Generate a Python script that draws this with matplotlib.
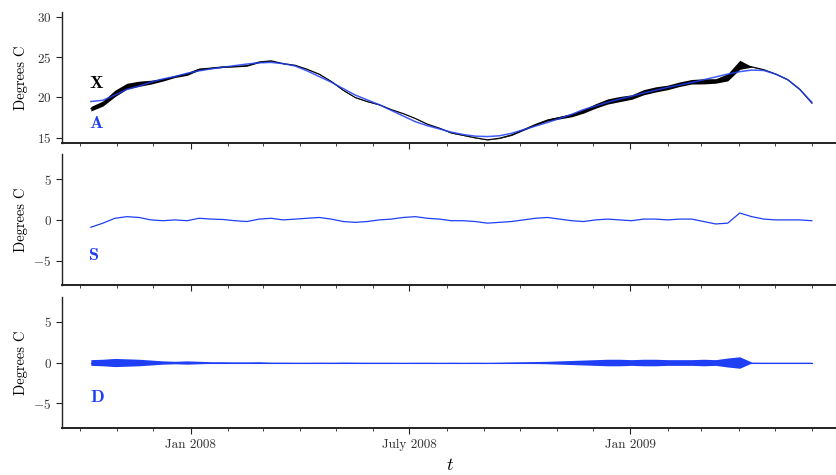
import numpy as np
import pandas as pd
import matplotlib
matplotlib.use("Agg")
import matplotlib.pyplot as plt
import matplotlib.dates as mdates

plt.rcParams['font.family'] = 'serif'
plt.rcParams['font.serif'] = ['cmr10']
plt.rcParams['mathtext.fontset'] = 'cm'
plt.rcParams['axes.formatter.use_mathtext'] = True

# one sample every 10 days, Oct 2007 .. Jun 2009
t = pd.date_range('2007-10-10', periods=61, freq='10D')

# smooth annual component A (deg C)
A = [19.5, 19.65, 20.3, 21.0, 21.4, 21.9, 22.3, 22.6, 23.0, 23.3,
     23.55, 23.75, 23.95, 24.15, 24.3, 24.35, 24.2, 23.9, 23.3, 22.6,
     21.9, 21.1, 20.3, 19.7, 19.1, 18.4, 17.7, 17.0, 16.5, 16.1,
     15.7, 15.4, 15.2, 15.15, 15.25, 15.55, 16.0, 16.45, 16.9, 17.4,
     17.9, 18.5, 18.95, 19.4, 19.8, 20.15, 20.55, 20.9, 21.25, 21.55,
     21.85, 22.2, 22.55, 22.9, 23.2, 23.4, 23.35, 22.9, 22.2, 21.0,
     19.4]

# slow residual S
S = [-0.9, -0.4, 0.2, 0.4, 0.3, 0.0, -0.1, 0.0, -0.1, 0.2,
     0.1, 0.05, -0.1, -0.2, 0.1, 0.2, 0.0, 0.1, 0.2, 0.3,
     0.1, -0.2, -0.3, -0.2, 0.0, 0.1, 0.3, 0.4, 0.2, 0.1,
     -0.1, -0.1, -0.2, -0.4, -0.3, -0.2, 0.0, 0.2, 0.3, 0.1,
     -0.1, -0.2, 0.0, 0.1, 0.0, -0.1, 0.1, 0.1, 0.0, 0.1,
     0.1, -0.2, -0.5, -0.4, 0.85, 0.4, 0.1, 0.0, 0.0, 0.0,
     -0.1]

# spread of the fast part D
D_amp = [0.35, 0.4, 0.5, 0.45, 0.4, 0.3, 0.2, 0.15, 0.2, 0.15,
         0.1, 0.1, 0.08, 0.08, 0.1, 0.05, 0.05, 0.04, 0.04, 0.05,
         0.04, 0.06, 0.05, 0.04, 0.04, 0.04, 0.03, 0.04, 0.04, 0.03,
         0.04, 0.03, 0.04, 0.03, 0.05, 0.08, 0.1, 0.12, 0.15, 0.2,
         0.25, 0.3, 0.35, 0.4, 0.4, 0.35, 0.4, 0.4, 0.35, 0.35,
         0.35, 0.4, 0.35, 0.55, 0.7, 0.05, 0.04, 0.04, 0.04, 0.04,
         0.04]

tick_dates = ['2008-01-01', '2008-07-01', '2009-01-01']
tick_labels = ['Jan 2008', 'July 2008', 'Jan 2009']

A = np.array(A)
S = np.array(S)
D_amp = np.array(D_amp)
X = A + S

blue = '#1f3ff5'
fig = plt.figure(figsize=(8.37, 4.75), dpi=100)
ax1 = fig.add_axes([0.0741, 0.6989, 0.926, 0.2758])
ax2 = fig.add_axes([0.0741, 0.4000, 0.926, 0.2758])
ax3 = fig.add_axes([0.0741, 0.0989, 0.926, 0.2758])

ax1.fill_between(t, X - 0.8 * D_amp, X + 0.8 * D_amp, color='black', lw=0)
ax1.plot(t, X, color='black', lw=0.8)
ax1.plot(t, A, color=blue, lw=1.1, alpha=0.85)
ax1.set_ylim(14.35, 30.6)
ax1.set_yticks([15, 20, 25, 30])
ax1.text(0.044, 0.458, r'$\mathbf{X}$', transform=ax1.transAxes, fontsize=13,
         ha='center', va='center', color='black')
ax1.text(0.044, 0.153, r'$\mathbf{A}$', transform=ax1.transAxes, fontsize=13,
         ha='center', va='center', color=blue)

ax2.plot(t, S, color=blue, lw=0.9)
ax2.set_ylim(-8, 8.1)
ax2.text(0.041, 0.229, r'$\mathbf{S}$', transform=ax2.transAxes, fontsize=13,
         ha='center', va='center', color=blue)

ax3.fill_between(t, -D_amp, D_amp, color=blue, lw=0)
ax3.plot(t, np.zeros(len(t)), color=blue, lw=0.8)
ax3.set_ylim(-8, 8)
ax3.text(0.045, 0.237, r'$\mathbf{D}$', transform=ax3.transAxes, fontsize=13,
         ha='center', va='center', color=blue)

for ax in (ax1, ax2, ax3):
    if ax is not ax1:
        ax.set_yticks([-5, 0, 5])
    ax.set_xlim(pd.Timestamp('2007-09-16'), pd.Timestamp('2009-06-22'))
    ax.xaxis.set_minor_locator(mdates.MonthLocator())
    ax.set_xticks(pd.to_datetime(tick_dates))
    ax.set_xticklabels(tick_labels if ax is ax3 else [])
    for s in ('top', 'right'):
        ax.spines[s].set_visible(False)
    ax.spines['left'].set_color('#222222')
    ax.spines['bottom'].set_color('#222222')
    ax.spines['left'].set_linewidth(1.0)
    ax.spines['bottom'].set_linewidth(1.4)
    ax.tick_params(axis='both', which='major', length=4, width=0.8,
                   labelsize=9.5, colors='#222222', labelcolor='#333333')
    ax.tick_params(axis='x', which='minor', length=2, width=0.6, colors='#222222')
    ax.set_ylabel('Degrees C', fontsize=10.5)
    ax.yaxis.set_label_coords(-0.044, 0.5)

ax3.set_xlabel(r'$t$', fontsize=13, labelpad=5)

fig.savefig('out.png', dpi=100)
